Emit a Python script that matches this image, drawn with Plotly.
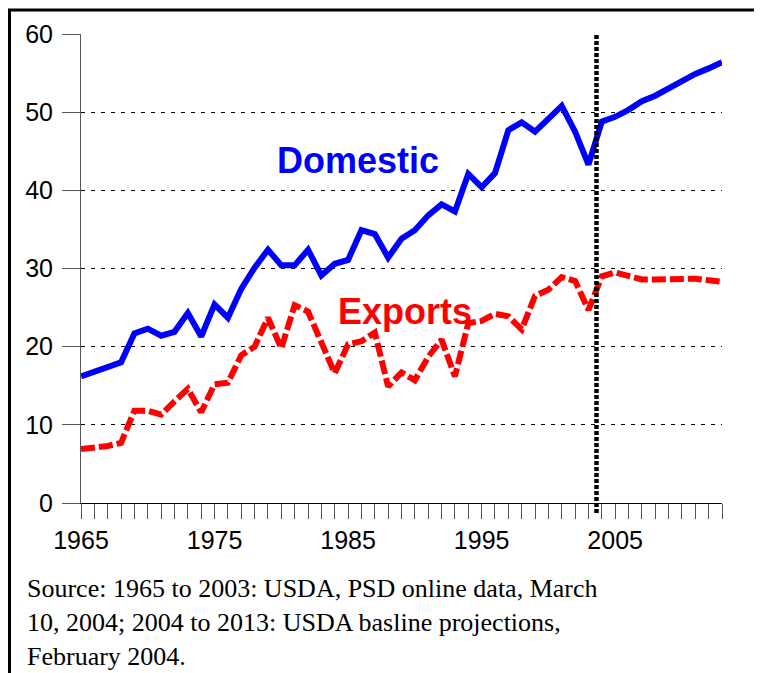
import plotly.graph_objects as go

# ---- data (million tons) ----
years = list(range(1965, 2014))
domestic = [16.2, 16.8, 17.3, 18.0, 21.7, 22.3, 21.4, 21.9, 24.3, 21.3,
            25.4, 23.7, 27.4, 30.1, 32.4, 30.4, 30.4, 32.4, 29.1, 30.6,
            31.1, 34.9, 34.4, 31.4, 33.8, 34.9, 36.8, 38.2, 37.3, 42.1,
            40.4, 42.2, 47.7, 48.7, 47.5, 49.2, 50.8, 47.5, 43.3, 48.8,
            49.4, 50.3, 51.4, 52.1, 53.1, 54.0, 54.9, 55.6, 56.4]
exports = [6.9, 7.1, 7.3, 7.7, 11.8, 11.8, 11.3, 13.0, 14.6, 11.6,
           15.2, 15.4, 18.9, 20.0, 23.7, 19.8, 25.3, 24.5, 20.5, 16.6,
           20.3, 20.7, 21.8, 14.9, 16.7, 15.7, 18.7, 20.9, 16.2, 23.0,
           23.3, 24.2, 23.9, 22.2, 26.5, 27.3, 28.9, 28.4, 24.7, 29.0,
           29.5, 29.1, 28.6, 28.6, 28.6, 28.6, 28.7, 28.5, 28.3]
projection_start = 2003.6
x_tick_start = 1965
y_ticks = [0, 10, 20, 30, 40, 50, 60]
source_lines = [
    "Source: 1965 to 2003: USDA, PSD online data, March",
    "10, 2004; 2004 to 2013: USDA basline projections,",
    "February 2004.",
]

# ---- layout geometry (page pixels; the page body has an 8px margin) ----
OFF = 8
PAGE_W, PAGE_H = 762, 673
W, H = PAGE_W - OFF, PAGE_H - OFF
PLOT_L, PLOT_R, PLOT_T, PLOT_B = 81, 722, 34, 503   # page coords
ML, MT = PLOT_L - OFF, PLOT_T - OFF
MR, MB = W - (PLOT_R - OFF), H - (PLOT_B - OFF)
PW, PH = W - ML - MR, H - MT - MB


def px(x):
    return (x - PLOT_L) / PW


def py(y):
    return (PLOT_B - y) / PH


fig = go.Figure()
fig.add_trace(go.Scatter(x=years, y=exports, mode="lines", name="Exports",
                         line=dict(color="#FF0000", width=6, dash="14px,4px"),
                         showlegend=False, hoverinfo="skip"))
fig.add_trace(go.Scatter(x=years, y=domestic, mode="lines", name="Domestic",
                         line=dict(color="#0000FF", width=6),
                         showlegend=False, hoverinfo="skip"))

# projection divider
fig.add_shape(type="line", xref="x", yref="paper",
              x0=projection_start, x1=projection_start,
              y0=py(513), y1=1.0, layer="above",
              line=dict(color="black", width=4.5, dash="4px,2px"))

# frame lines of the original slide
fig.add_shape(type="line", xref="paper", yref="paper",
              x0=px(9.5), x1=px(9.5), y0=py(9), y1=py(PAGE_H + 2),
              line=dict(color="black", width=3))
fig.add_shape(type="line", xref="paper", yref="paper",
              x0=px(8), x1=px(PAGE_W + 2), y0=py(10), y1=py(10),
              line=dict(color="black", width=3))

fig.add_annotation(x=px(275), y=py(160), xref="paper", yref="paper",
                   text="<b>Domestic</b>", showarrow=False,
                   xanchor="left", yanchor="middle",
                   font=dict(family="Liberation Sans, Arial", size=36, color="#0000FF"))
fig.add_annotation(x=px(336), y=py(311), xref="paper", yref="paper",
                   text="<b>Exports</b>", showarrow=False,
                   xanchor="left", yanchor="middle",
                   font=dict(family="Liberation Sans, Arial", size=36, color="#FF0000"))

fig.add_annotation(x=px(25), y=py(572), xref="paper", yref="paper",
                   text="<br>".join(source_lines), showarrow=False,
                   xanchor="left", yanchor="top", align="left",
                   font=dict(family="Liberation Serif, Times New Roman", size=26,
                             color="black"))

fig.update_layout(
    width=W, height=H,
    margin=dict(l=ML, r=MR, t=MT, b=MB, autoexpand=False),
    paper_bgcolor="white", plot_bgcolor="white",
    showlegend=False,
    font=dict(family="Liberation Sans, Arial", size=25, color="black"),
)
fig.update_xaxes(range=[1965, 2013], tick0=x_tick_start, dtick=10,
                 ticks="outside", ticklen=15, tickcolor="#555", tickwidth=1,
                 showline=True, linecolor="black", linewidth=1,
                 showgrid=False, zeroline=False,
                 tickfont=dict(size=25),
                 minor=dict(dtick=1, tick0=x_tick_start, ticks="outside",
                            ticklen=15, tickcolor="#555", tickwidth=1,
                            showgrid=False))
fig.update_yaxes(range=[0, 60], tickvals=y_ticks,
                 ticks="outside", ticklen=18, tickcolor="#555", tickwidth=1,
                 showline=True, linecolor="#555", linewidth=1,
                 showgrid=True, gridcolor="black", gridwidth=1,
                 griddash="4px,6px", zeroline=False,
                 ticklabelstandoff=4,
                 tickfont=dict(size=25))

fig.write_html("out.html")
